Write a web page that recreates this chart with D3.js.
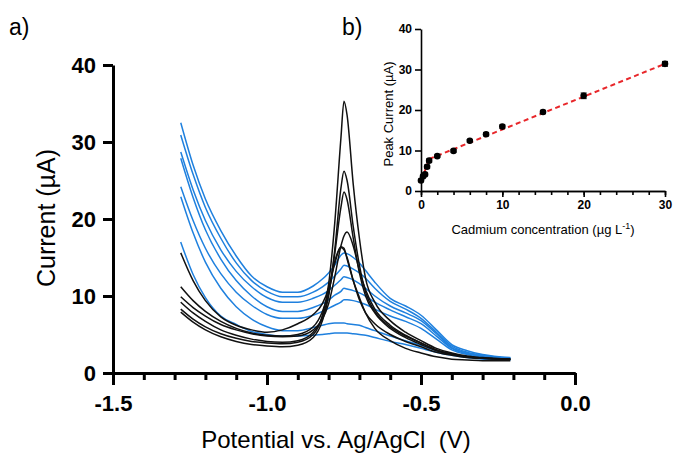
<!DOCTYPE html>
<html>
<head>
<meta charset="utf-8">
<script src="https://cdn.jsdelivr.net/npm/d3@7"></script>
<style>
  body { margin: 0; background: #fff; }
  svg { display: block; font-family: "Liberation Sans", Arial, sans-serif; }
</style>
</head>
<body>
<div id="chart"></div>
<script>
// potential grid (V vs Ag/AgCl) shared by every scan
const potential = [-1.28, -1.24, -1.2, -1.15, -1.1, -1.05, -1.0, -0.95, -0.9, -0.85, -0.82, -0.8, -0.78, -0.76,
    -0.75, -0.74, -0.72, -0.7, -0.68, -0.65, -0.6, -0.55, -0.5, -0.45, -0.4, -0.35, -0.3, -0.21];

// blue scans (µA)
const blueScans = [
    [32.5, 27.0, 22.6, 18.5, 15.2, 12.6, 11.2, 10.5, 10.5, 11.3, 12.2, 13.0, 14.0, 15.3, 15.6, 15.5, 15.0, 14.3, 13.3, 11.8, 9.7, 8.7, 7.5, 5.6, 3.7, 2.9, 2.4, 2.0],
    [30.9, 25.8, 21.5, 17.5, 14.3, 12.0, 10.6, 9.9, 9.9, 10.5, 11.2, 11.8, 12.6, 13.5, 14.0, 13.9, 13.5, 13.0, 12.3, 11.0, 9.3, 8.3, 7.1, 5.3, 3.5, 2.7, 2.3, 1.9],
    [28.7, 23.8, 19.8, 16.0, 13.2, 11.2, 9.8, 9.2, 9.2, 9.7, 10.2, 10.7, 11.4, 12.1, 12.5, 12.4, 12.1, 11.6, 11.0, 10.0, 8.7, 7.8, 6.8, 5.1, 3.3, 2.6, 2.2, 1.9],
    [27.9, 22.8, 18.6, 14.8, 12.0, 10.0, 8.6, 8.0, 8.0, 8.5, 9.0, 9.5, 10.1, 10.6, 11.0, 10.9, 10.7, 10.4, 10.0, 9.2, 8.2, 7.3, 6.4, 4.8, 3.2, 2.5, 2.2, 1.9],
    [24.2, 19.8, 16.2, 12.9, 10.5, 8.8, 7.6, 7.1, 7.1, 7.5, 8.0, 8.4, 8.8, 9.2, 9.5, 9.5, 9.4, 9.2, 8.9, 8.3, 7.4, 6.7, 5.8, 4.4, 3.0, 2.4, 2.1, 1.8],
    [22.9, 18.2, 14.4, 11.0, 8.6, 7.0, 6.0, 5.5, 5.5, 5.9, 6.2, 6.4, 6.5, 6.5, 6.5, 6.4, 6.3, 6.2, 5.9, 5.5, 4.8, 4.2, 3.6, 2.9, 2.4, 2.1, 1.9, 1.7],
    [17.0, 12.8, 9.8, 7.4, 6.3, 5.4, 5.0, 4.8, 4.8, 4.9, 5.0, 5.1, 5.2, 5.2, 5.2, 5.2, 5.1, 5.0, 4.9, 4.6, 4.1, 3.7, 3.2, 2.7, 2.3, 2.0, 1.8, 1.7]
];

// black scans (µA)
const blackScans = [
    [8.3, 7.0, 6.0, 5.1, 4.5, 4.1, 3.9, 3.8, 4.0, 5.0, 7.5, 11.5, 19.5, 30.5, 35.3, 33.5, 24.5, 17.5, 12.3, 9.2, 6.8, 5.3, 4.2, 3.2, 2.6, 2.2, 2.0, 1.8],
    [7.9, 6.6, 5.6, 4.7, 4.1, 3.7, 3.5, 3.4, 3.6, 4.6, 6.8, 10.0, 16.0, 24.0, 26.2, 25.0, 19.0, 14.0, 10.5, 8.0, 6.0, 4.8, 3.9, 3.0, 2.4, 2.1, 1.9, 1.8],
    [9.2, 7.8, 6.7, 5.6, 4.9, 4.4, 4.1, 4.0, 4.2, 5.3, 7.3, 10.2, 15.5, 21.5, 23.5, 22.5, 17.5, 13.0, 10.0, 7.8, 5.8, 4.6, 3.7, 2.9, 2.4, 2.1, 1.9, 1.8],
    [9.9, 8.5, 7.4, 6.3, 5.6, 5.1, 4.8, 4.7, 4.8, 5.6, 7.0, 9.0, 12.5, 16.5, 17.8, 18.3, 16.5, 13.3, 10.8, 8.3, 6.2, 4.9, 3.9, 3.0, 2.5, 2.1, 1.9, 1.8],
    [11.2, 9.4, 8.0, 6.7, 5.8, 5.2, 4.9, 4.8, 5.0, 6.0, 8.0, 10.5, 14.5, 16.3, 16.0, 15.0, 12.0, 9.5, 7.8, 6.4, 5.0, 4.1, 3.4, 2.7, 2.3, 2.0, 1.9, 1.8],
    [15.6, 12.0, 9.4, 7.3, 6.2, 5.6, 5.3, 5.6, 6.4, 7.6, 9.0, 11.0, 14.2, 16.4, 16.2, 14.8, 12.0, 9.8, 7.8, 5.8, 4.2, 3.2, 2.6, 2.1, 1.8, 1.7, 1.6, 1.6]
];

// inset: calibration
const concentration = [0, 0.25, 0.5, 0.75, 1, 2, 4, 6, 8, 10, 15, 20, 30];
const peakCurrent = [2.6, 3.6, 4.1, 6.0, 7.5, 8.6, 9.9, 12.4, 14.0, 15.9, 19.5, 23.5, 31.4];
const peakError = [0.3, 0.3, 0.3, 0.4, 0.4, 0.3, 0.3, 0.3, 0.4, 0.4, 0.4, 0.7, 0.6];
const fitLowX = [0, 1], fitLowY = [2.3, 7.9];
const fitHighX = [1, 30], fitHighY = [7.9, 31.4];

const mainYTicks = [0, 10, 20, 30, 40];
const mainXTicks = [-1.5, -1.0, -0.5, 0.0];
const insetYTicks = [0, 10, 20, 30, 40];
const insetXTicks = [0, 10, 20, 30];

const W = 675, H = 455;
const svg = d3.select("#chart").append("svg").attr("width", W).attr("height", H);

// ---------- main panel ----------
const x = d3.scaleLinear().domain([-1.5, 0]).range([113, 575]);
const y = d3.scaleLinear().domain([0, 40]).range([373, 65]);

const line = d3.line()
    .x((d, i) => x(potential[i]))
    .y(d => y(d))
    .curve(d3.curveMonotoneX);

const curves = svg.append("g").attr("fill", "none").attr("stroke-width", 1.5);
curves.selectAll(".blue").data(blueScans).enter().append("path")
    .attr("class", "blue").attr("stroke", "#1f80de").attr("d", line);
curves.selectAll(".black").data(blackScans).enter().append("path")
    .attr("class", "black").attr("stroke", "#111").attr("d", line);

const styleAxis = (g, width) => {
    g.selectAll("path, line").attr("stroke", "#000").attr("stroke-width", width);
};

const yAxisG = svg.append("g").attr("transform", `translate(${x(-1.5)},0)`)
    .call(d3.axisLeft(y).tickValues(mainYTicks).tickSize(10).tickSizeOuter(0).tickPadding(7));
styleAxis(yAxisG, 3);
yAxisG.selectAll("text").attr("fill", "#000").style("font-size", "22px").style("font-weight", "700")
    .attr("dy", "0.36em");

// minor x ticks every 0.1
const xMinorG = svg.append("g").attr("transform", `translate(0,${y(0)})`)
    .call(d3.axisBottom(x).ticks(15).tickSize(7).tickSizeOuter(0).tickFormat(""));
styleAxis(xMinorG, 3);

const xAxisG = svg.append("g").attr("transform", `translate(0,${y(0)})`)
    .call(d3.axisBottom(x).tickValues(mainXTicks).tickSize(12).tickSizeOuter(0).tickPadding(10)
        .tickFormat(d => d.toFixed(1)));
styleAxis(xAxisG, 3);
xAxisG.selectAll("text").attr("fill", "#000").style("font-size", "22px").style("font-weight", "700");

svg.append("text").attr("transform", `translate(55,218) rotate(-90)`).attr("text-anchor", "middle")
    .style("font-size", "25px").text("Current (\u00b5A)");
svg.append("text").attr("x", 336).attr("y", 448).attr("text-anchor", "middle")
    .style("font-size", "24px").attr("xml:space", "preserve").text("Potential vs. Ag/AgCl  (V)");

svg.append("text").attr("x", 9).attr("y", 35).style("font-size", "23px").text("a)");
svg.append("text").attr("x", 342).attr("y", 35).style("font-size", "23px").text("b)");

// ---------- inset ----------
const ix = d3.scaleLinear().domain([0, 30]).range([421, 665]);
const iy = d3.scaleLinear().domain([0, 40]).range([191, 29]);

const iyAxisG = svg.append("g").attr("transform", `translate(${ix(0)},0)`)
    .call(d3.axisLeft(iy).tickValues(insetYTicks).tickSize(6).tickSizeOuter(0).tickPadding(3));
styleAxis(iyAxisG, 1.6);
iyAxisG.selectAll("text").attr("fill", "#000").style("font-size", "12px").style("font-weight", "700");

const ixMinorG = svg.append("g").attr("transform", `translate(0,${iy(0)})`)
    .call(d3.axisBottom(ix).ticks(15).tickSize(4).tickSizeOuter(0).tickFormat(""));
styleAxis(ixMinorG, 1.6);

const ixAxisG = svg.append("g").attr("transform", `translate(0,${iy(0)})`)
    .call(d3.axisBottom(ix).tickValues(insetXTicks).tickSize(6).tickSizeOuter(0).tickPadding(3));
styleAxis(ixAxisG, 1.6);
ixAxisG.selectAll("text").attr("fill", "#000").style("font-size", "12px").style("font-weight", "700");

svg.append("text").attr("transform", `translate(393,114) rotate(-90)`).attr("text-anchor", "middle")
    .style("font-size", "13px").text("Peak Current (\u00b5A)");

const xt = svg.append("text").attr("x", 543).attr("y", 234).attr("text-anchor", "middle")
    .style("font-size", "13px");
xt.append("tspan").text("Cadmium concentration (\u00b5g L");
xt.append("tspan").attr("dy", -5).style("font-size", "9px").text("-1");
xt.append("tspan").attr("dy", 5).text(")");

// fit lines
const fitLine = d3.line().x(d => ix(d[0])).y(d => iy(d[1]));
[[fitLowX, fitLowY], [fitHighX, fitHighY]].forEach(([fx, fy]) => {
    svg.append("path").datum(fx.map((v, i) => [v, fy[i]]))
        .attr("d", fitLine).attr("fill", "none")
        .attr("stroke", "#e8262a").attr("stroke-width", 2).attr("stroke-dasharray", "5,3.5");
});

// error bars + points
const pts = concentration.map((c, i) => ({ c, v: peakCurrent[i], e: peakError[i] }));
const eb = svg.append("g").attr("stroke", "#000").attr("stroke-width", 1);
eb.selectAll(".eb").data(pts).enter().append("line")
    .attr("x1", d => ix(d.c)).attr("x2", d => ix(d.c))
    .attr("y1", d => iy(d.v - d.e)).attr("y2", d => iy(d.v + d.e));
eb.selectAll(".cap-top").data(pts).enter().append("line")
    .attr("x1", d => ix(d.c) - 3).attr("x2", d => ix(d.c) + 3)
    .attr("y1", d => iy(d.v + d.e)).attr("y2", d => iy(d.v + d.e));
eb.selectAll(".cap-bot").data(pts).enter().append("line")
    .attr("x1", d => ix(d.c) - 3).attr("x2", d => ix(d.c) + 3)
    .attr("y1", d => iy(d.v - d.e)).attr("y2", d => iy(d.v - d.e));
svg.append("g").selectAll("circle").data(pts).enter().append("circle")
    .attr("cx", d => ix(d.c)).attr("cy", d => iy(d.v)).attr("r", 3.3).attr("fill", "#000");
</script>
</body>
</html>
